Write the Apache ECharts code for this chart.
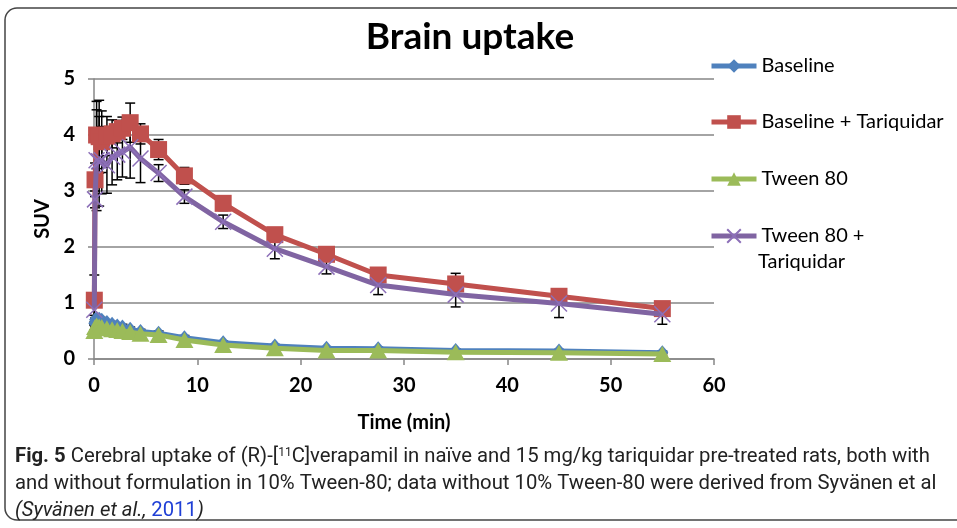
<!DOCTYPE html>
<html><head><meta charset="utf-8">
<script src="https://cdn.jsdelivr.net/npm/echarts@6/dist/echarts.min.js"></script>
<style>html,body{margin:0;padding:0;background:#fff}#c{width:957px;height:528px}</style>
</head><body><div id="c"></div>
<script>
// Time points (min)
const times = [0.03, 0.1, 0.25, 0.5, 0.75, 1.25, 1.75, 2.25, 2.75, 3.5, 4.5, 6.25, 8.75, 12.5, 17.5, 22.5, 27.5, 35, 45, 55];
// SUV values and error bars
const baseline       = [0.64, 0.70, 0.73, 0.72, 0.70, 0.66, 0.63, 0.60, 0.58, 0.54, 0.50, 0.47, 0.39, 0.30, 0.24, 0.20, 0.19, 0.16, 0.15, 0.12];
const baselineErr    = [0.02, 0.03, 0.04, 0.04, 0.04, 0.04, 0.04, 0.04, 0.04, 0.03, 0.03, 0.03, 0.03, 0.02, 0.02, 0.02, 0.02, 0.02, 0.02, 0.02];
const baseTariq      = [1.05, 3.20, 4.00, 3.97, 3.88, 3.98, 4.02, 4.06, 4.12, 4.22, 4.02, 3.74, 3.27, 2.78, 2.22, 1.87, 1.50, 1.34, 1.12, 0.90];
const baseTariqErr   = [0.45, 0.30, 0.60, 0.65, 0.55, 0.35, 0.25, 0.20, 0.20, 0.35, 0.18, 0.18, 0.15, 0.13, 0.10, 0.10, 0.08, 0.19, 0.13, 0.05];
const tween          = [0.50, 0.57, 0.60, 0.58, 0.57, 0.55, 0.53, 0.52, 0.50, 0.48, 0.45, 0.43, 0.34, 0.25, 0.19, 0.15, 0.15, 0.12, 0.11, 0.09];
const tweenErr       = [0.02, 0.02, 0.02, 0.02, 0.02, 0.02, 0.02, 0.02, 0.02, 0.02, 0.02, 0.02, 0.02, 0.02, 0.02, 0.02, 0.02, 0.02, 0.02, 0.02];
const tweenTariq     = [0.88, 2.85, 3.55, 3.53, 3.55, 3.46, 3.61, 3.65, 3.70, 3.78, 3.58, 3.32, 2.90, 2.45, 1.97, 1.65, 1.32, 1.15, 0.99, 0.80];
const tweenTariqErr  = [0.10, 0.15, 0.90, 0.80, 0.60, 0.50, 0.50, 0.45, 0.45, 0.55, 0.43, 0.15, 0.12, 0.12, 0.18, 0.13, 0.17, 0.22, 0.25, 0.18];

const seriesNames = ['Baseline', 'Baseline + Tariquidar', 'Tween 80', 'Tween 80 +'];
const xTicks = [0, 10, 20, 30, 40, 50, 60];
const yTicks = [0, 1, 2, 3, 4, 5];

const FONT = 'Lato';
const CAP = 'Roboto';
const CAPSIZE = 20.3;
const chart = echarts.init(document.getElementById('c'));

function pairs(vals) { return times.map((t, i) => [t, vals[i]]); }

function errSeries(vals, errs) {
  return {
    type: 'custom', silent: true, z: 1,
    data: times.map((t, i) => [t, vals[i] - errs[i], vals[i] + errs[i]]),
    encode: { x: 0, y: [1, 2] },
    renderItem(params, api) {
      const x = api.value(0), lo = api.value(1), hi = api.value(2);
      const p1 = api.coord([x, lo]), p2 = api.coord([x, hi]);
      const w = 5, st = { stroke: '#000', lineWidth: 1.5 };
      return { type: 'group', children: [
        { type: 'line', shape: { x1: p1[0], y1: p1[1], x2: p2[0], y2: p2[1] }, style: st },
        { type: 'line', shape: { x1: p1[0] - w, y1: p1[1], x2: p1[0] + w, y2: p1[1] }, style: st },
        { type: 'line', shape: { x1: p2[0] - w, y1: p2[1], x2: p2[0] + w, y2: p2[1] }, style: st }
      ]};
    }
  };
}

const legendTops = [56, 112, 169, 226];

const option = {
  animation: false,
  backgroundColor: '#fff',
  title: {
    text: 'Brain uptake', left: 470, top: 19, textAlign: 'center', padding: 0,
    textStyle: { fontFamily: FONT, fontWeight: 'bold', fontSize: 37, color: '#000' }
  },
  legend: seriesNames.map((n, i) => ({
    data: [n], left: 709, top: legendTops[i], orient: 'vertical', padding: 0,
    itemWidth: 45, itemHeight: 17, selectedMode: false,
    lineStyle: { width: 5 },
    textStyle: { fontFamily: FONT, fontSize: 20, color: '#000' }
  })),
  grid: { left: 94, right: 243, top: 79, bottom: 169, containLabel: false },
  xAxis: {
    type: 'value', min: xTicks[0], max: xTicks[xTicks.length - 1], interval: 10,
    name: 'Time (min)', nameLocation: 'middle', nameGap: 54,
    nameTextStyle: { fontFamily: FONT, fontWeight: 'bold', fontSize: 20, color: '#000' },
    axisLine: { lineStyle: { color: '#868686', width: 1.5 } },
    axisTick: { show: true, inside: false, length: 6, lineStyle: { color: '#868686', width: 1.5 } },
    axisLabel: { margin: 17, fontFamily: FONT, fontWeight: 'bold', fontSize: 20, color: '#000' },
    splitLine: { show: false }
  },
  yAxis: {
    type: 'value', min: yTicks[0], max: yTicks[yTicks.length - 1], interval: 1,
    name: 'SUV', nameLocation: 'middle', nameGap: 40, nameRotate: 90,
    nameTextStyle: { fontFamily: FONT, fontWeight: 'bold', fontSize: 20, color: '#000' },
    axisLine: { show: true, lineStyle: { color: '#868686', width: 1.5 } },
    axisTick: { show: true, inside: false, length: 6, lineStyle: { color: '#868686', width: 1.5 } },
    axisLabel: { margin: 19, fontFamily: FONT, fontWeight: 'bold', fontSize: 20, color: '#000' },
    splitLine: { show: true, lineStyle: { color: '#868686', width: 1.5 } }
  },
  series: [
    errSeries(baseline, baselineErr),
    errSeries(baseTariq, baseTariqErr),
    errSeries(tween, tweenErr),
    errSeries(tweenTariq, tweenTariqErr),
    { type: 'line', name: seriesNames[0], data: pairs(baseline), z: 2,
      symbol: 'diamond', symbolSize: [12, 14],
      lineStyle: { width: 4, color: '#4F81BD' }, itemStyle: { color: '#4F81BD' } },
    { type: 'line', name: seriesNames[1], data: pairs(baseTariq), z: 3,
      symbol: 'rect', symbolSize: 17,
      lineStyle: { width: 5, color: '#C0504D' }, itemStyle: { color: '#C0504D' } },
    { type: 'line', name: seriesNames[2], data: pairs(tween), z: 4,
      symbol: 'triangle', symbolSize: [18, 16],
      lineStyle: { width: 5, color: '#9BBB59' }, itemStyle: { color: '#9BBB59' } },
    { type: 'line', name: seriesNames[3], data: pairs(tweenTariq), z: 5,
      symbol: 'path://M0,0L10,10M10,0L0,10', symbolSize: 16,
      lineStyle: { width: 5, color: '#8064A2' },
      itemStyle: { color: '#8064A2', borderColor: '#8c6fb8', borderWidth: 1.5 } }
  ],
  graphic: [
    { type: 'rect', z: -10, shape: { x: 5, y: 8, width: 1000, height: 512, r: 12 },
      style: { fill: 'none', stroke: '#444', lineWidth: 1.5 } },
    { type: 'text', x: 758, y: 262, style: { text: 'Tariquidar', fontFamily: FONT, fontSize: 20, fill: '#000', verticalAlign: 'middle' } },
    { type: 'text', x: 15, y: 457, style: {
        text: '{b|Fig. 5} Cerebral uptake of (R)-[{sup|11}C]verapamil in naïve and 15 mg/kg tariquidar pre-treated rats, both with',
        fontFamily: CAP, fontSize: CAPSIZE, fill: '#222', verticalAlign: 'middle',
        rich: {
          b: { fontFamily: CAP, fontSize: CAPSIZE, fontWeight: 'bold', fill: '#222' },
          sup: { fontFamily: CAP, fontSize: 12, fill: '#222', verticalAlign: 'top' }
        } } },
    { type: 'text', x: 15, y: 484, style: {
        text: 'and without formulation in 10% Tween-80; data without 10% Tween-80 were derived from Syvänen et al',
        fontFamily: CAP, fontSize: CAPSIZE, fill: '#222', verticalAlign: 'middle' } },
    { type: 'text', x: 15, y: 511, style: {
        text: '{i|(Syvänen et al., }{a|2011}{i|)}',
        fontFamily: CAP, fontSize: CAPSIZE, fill: '#222', verticalAlign: 'middle',
        rich: {
          i: { fontFamily: CAP, fontSize: CAPSIZE, fontStyle: 'italic', fill: '#222' },
          a: { fontFamily: CAP, fontSize: CAPSIZE, fill: '#1f3fd6' }
        } } }
  ]
};
chart.setOption(option);
</script>
</body></html>
